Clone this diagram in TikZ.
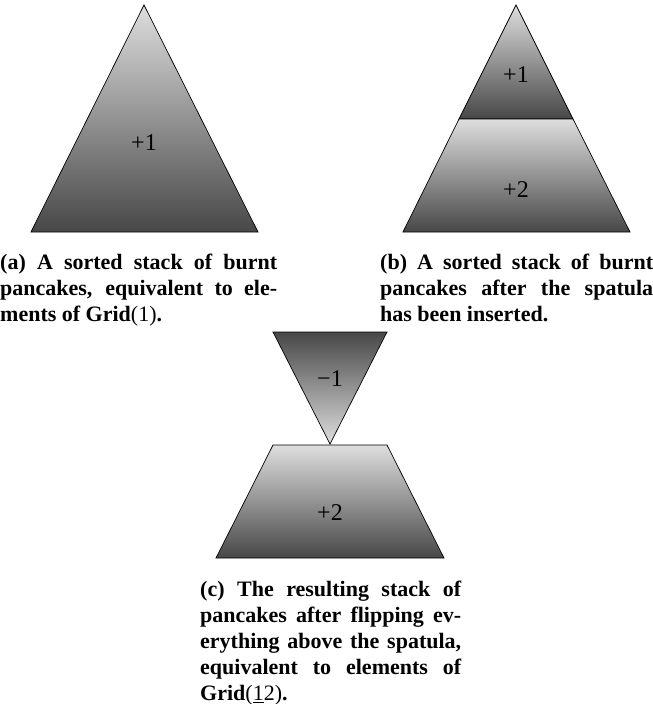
\documentclass[tikz,border=0pt]{standalone}
\usepackage{fontspec}
\setmainfont{Liberation Serif}

\begin{document}
\begin{tikzpicture}[x=1pt, y=-1pt]
	\tikzstyle{pancake} = [draw=black, line width=0.7pt, top color=black!13, bottom color=black!72]
	\tikzstyle{flipped} = [draw=black, line width=0.7pt, top color=black!72, bottom color=black!13]
	\tikzstyle{sign} = [inner sep=0pt, font=\fontsize{24}{28}\selectfont]
	\tikzstyle{subcap} = [inner sep=0pt, anchor=north west, align=justify, font=\bfseries\fontsize{22}{26}\selectfont]
	\useasboundingbox (0,0) rectangle (653,704);
	% (a) sorted stack
	\shade[pancake] (144,5) -- (258,232) -- (31,232) -- cycle;
	\node[sign] (A1) at (144,143) {+1};
	% (b) spatula inserted
	\shade[pancake] (516,5) -- (573,119) -- (459,119) -- cycle;
	\shade[pancake] (459,119) -- (573,119) -- (630,232) -- (403,232) -- cycle;
	\node[sign] (B1) at (516,75) {+1};
	\node[sign] (B2) at (516,190) {+2};
	% (c) after the flip
	\shade[flipped] (273,332) -- (387,332) -- (330,444) -- cycle;
	\shade[pancake] (273,445) -- (387,445) -- (444,558) -- (216,558) -- cycle;
	\node[sign] (C1) at (330,379) {−1};
	\node[sign] (C2) at (330,513) {+2};
	% captions
	\node[subcap, text width=277pt] (capA) at (0,254) {\tolerance=9999\hbadness=10000
		(a) A sorted stack of burnt\linebreak pancakes, equivalent to ele-\linebreak ments of Grid{\mdseries(1)}.};
	\node[subcap, text width=273pt] (capB) at (380,254) {\tolerance=9999\hbadness=10000
		(b) A sorted stack of burnt\linebreak pancakes after the spatula\linebreak has been inserted.};
	\node[subcap, text width=261pt] (capC) at (200,581) {\tolerance=9999\hbadness=10000
		(c) The resulting stack of\linebreak pancakes after flipping ev-\linebreak erything above the spatula,\linebreak equivalent to elements of\linebreak Grid{\mdseries(\underline{1}2)}.};
\end{tikzpicture}
\end{document}
